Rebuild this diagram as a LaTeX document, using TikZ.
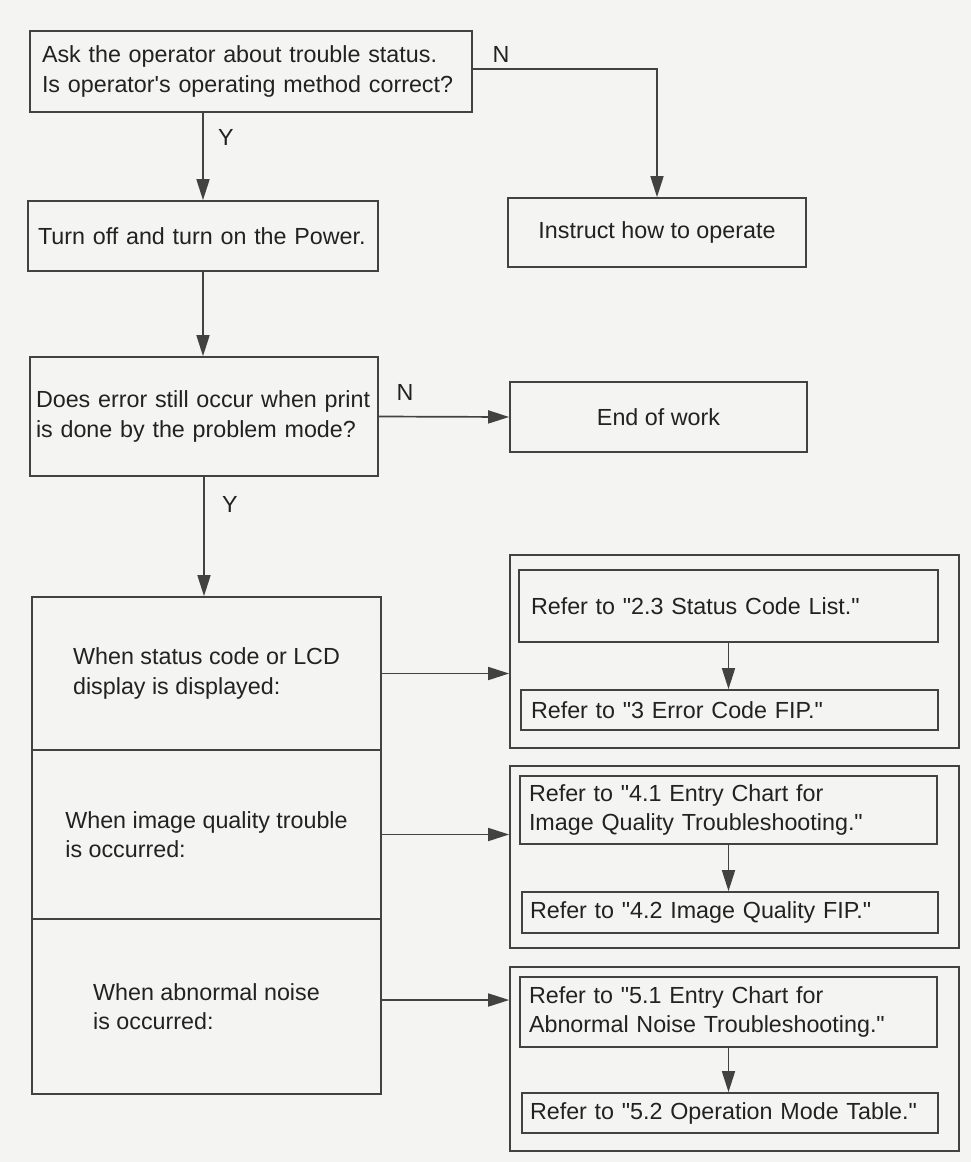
\documentclass[tikz,border=0pt]{standalone}
\usepackage{fontspec}
\setmainfont{Liberation Sans}
\usetikzlibrary{arrows.meta}
\definecolor{ink}{RGB}{66,66,66}
\definecolor{txt}{RGB}{34,34,34}
\definecolor{paper}{RGB}{244,244,242}
\newcommand{\dq}{\textquotedbl}
\begin{document}
\begin{tikzpicture}[x=1pt,y=-1pt,
  font=\fontsize{23.3}{29.5}\selectfont,
  box/.style={draw=ink, line width=1.7pt, text=txt, inner sep=0pt, rectangle},
  arr/.style={draw=ink, line width=1.7pt, -{Triangle[length=21pt,width=13pt]}},
  lbl/.style={text=txt, inner sep=0pt},
]
\fill[paper] (0,0) rectangle (971,1162);
\useasboundingbox (0,0) rectangle (971,1162);

% top decision
\node[box, minimum width=442pt, minimum height=81pt, text width=418pt, align=left] (q1) at (251,71.5)
  {\mbox{Ask the operator about trouble status.}\\\mbox{Is operator\textquotesingle s operating method correct?}};
\node[box, minimum width=350pt, minimum height=70pt, text width=330pt, align=left] (pw) at (203,236)
  {\mbox{Turn off and turn on the Power.}};
\node[box, minimum width=298pt, minimum height=69pt, align=center] (ins) at (657,232.5)
  {Instruct how to operate};
\node[box, minimum width=348pt, minimum height=119pt, text width=336pt, align=left] (q2) at (204,416.5)
  {\mbox{Does error still occur when print}\\\mbox{is done by the problem mode?}};
\node[box, minimum width=297pt, minimum height=70pt, align=center] (end) at (658.5,417)
  {End of work};

% left stacked cases
\node[box, minimum width=349pt, minimum height=153pt, align=left] (s1) at (206.5,673.5)
  {When status code or LCD\\display is displayed:};
\node[box, minimum width=349pt, minimum height=169pt, align=left] (s2) at (206.5,834.5)
  {When image quality trouble\\is occurred:};
\node[box, minimum width=349pt, minimum height=175pt, align=left] (s3) at (206.5,1006.5)
  {When abnormal noise\\is occurred:};

% right groups
\node[box, minimum width=449pt, minimum height=193pt] (o1) at (734.5,651.5) {};
\node[box, minimum width=449pt, minimum height=182pt] (o2) at (734.5,857) {};
\node[box, minimum width=449pt, minimum height=184pt] (o3) at (734.5,1059) {};

\node[box, minimum width=419pt, minimum height=72pt, text width=395pt, align=left] (a1) at (728.5,606)
  {\mbox{Refer to \dq2.3 Status Code List.\dq}};
\node[box, minimum width=417pt, minimum height=40pt, text width=397pt, align=left] (b1) at (729.5,710)
  {\mbox{Refer to \dq3 Error Code FIP.\dq}};
\node[box, minimum width=417pt, minimum height=68pt, text width=399pt, align=left] (a2) at (728.5,810)
  {\mbox{Refer to \dq4.1 Entry Chart for}\\\mbox{Image Quality Troubleshooting.\dq}};
\node[box, minimum width=416pt, minimum height=41pt, text width=400pt, align=left] (b2) at (730,912.5)
  {\mbox{Refer to \dq4.2 Image Quality FIP.\dq}};
\node[box, minimum width=417pt, minimum height=70pt, text width=399pt, align=left] (a3) at (728.5,1012)
  {\mbox{Refer to \dq5.1 Entry Chart for}\\\mbox{Abnormal Noise Troubleshooting.\dq}};
\node[box, minimum width=416pt, minimum height=40pt, text width=400pt, align=left] (b3) at (730,1113)
  {\mbox{Refer to \dq5.2 Operation Mode Table.\dq}};

% labels
\node[lbl] (y1) at (226,137) {Y};
\node[lbl] (n1) at (501,54) {N};
\node[lbl] (n2) at (405,392) {N};
\node[lbl] (y2) at (230,504) {Y};

% connectors
\coordinate (q1n) at ([yshift=2.5pt]q1.east);
\draw[arr] (q1n) -| (ins.north);
\draw[arr] (pw.north |- q1.south) -- (pw.north);
\draw[arr] (pw.south) -- (pw.south |- q2.north);
\draw[arr] (q2.east) -- (end.west);
\draw[arr] (q2.south) -- (q2.south |- s1.north);

\draw[arr] (s1.east) -- (s1.east -| o1.west);
\draw[arr] (s2.east) -- (s2.east -| o2.west);
\coordinate (s3e) at ([yshift=6.5pt]s3.east);
\draw[arr] (s3e) -- (s3e -| o3.west);

\draw[arr] (a1.south) -- (a1.south |- b1.north);
\draw[arr] (a2.south) -- (a2.south |- b2.north);
\draw[arr] (a3.south) -- (a3.south |- b3.north);
\end{tikzpicture}
\end{document}
